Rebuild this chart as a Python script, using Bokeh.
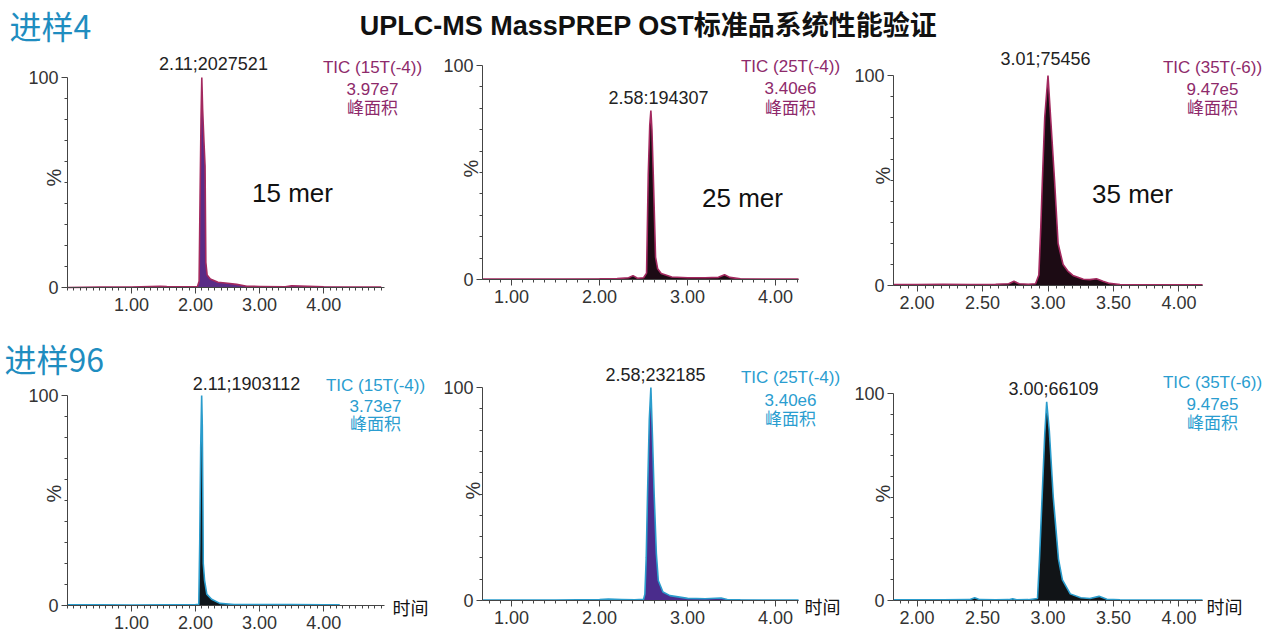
import math
from bokeh.plotting import figure
from bokeh.layouts import column, row
from bokeh.models import Label, FixedTicker, Range1d, NumeralTickFormatter
from bokeh.embed import file_html
from bokeh.resources import INLINE

# ---------------- data ----------------
# 进样4
T15_A = [0.00, 0.50, 1.00, 1.45, 1.55, 1.90, 2.03, 2.055, 2.07, 2.085, 2.097, 2.11, 2.13, 2.148, 2.16, 2.18,
         2.23, 2.35, 2.50, 2.64, 2.80, 3.00, 3.40, 3.50, 4.00, 4.50, 4.90]
I15_A = [0.0, 0.2, 0.2, 0.6, 0.4, 0.3, 0.5, 3, 43, 80, 100, 85, 70, 58, 12, 6,
         4, 2.5, 2, 1.5, 0.6, 0.5, 0.3, 0.8, 0.3, 0.2, 0.2]
T25_A = [0.67, 1.0, 1.5, 2.0, 2.2, 2.33, 2.38, 2.43, 2.50, 2.534, 2.553, 2.57, 2.583, 2.595, 2.61, 2.636, 2.66,
         2.70, 2.82, 3.0, 3.2, 3.35, 3.42, 3.48, 3.6, 4.0, 4.26]
I25_A = [0.2, 0.2, 0.2, 0.3, 0.4, 0.8, 1.8, 0.6, 0.8, 3, 49, 72, 79, 70, 49, 10.5, 5,
         2.8, 1.2, 0.8, 0.8, 1.0, 2.2, 1.0, 0.3, 0.2, 0.2]
T35_A = [1.82, 2.0, 2.2, 2.4, 2.6, 2.70, 2.74, 2.78, 2.85, 2.905, 2.93, 2.945, 2.957, 2.975, 3.00, 3.02, 3.05,
         3.077, 3.115, 3.15, 3.19, 3.27, 3.32, 3.37, 3.42, 3.47, 3.55, 3.7, 4.0, 4.18]
I35_A = [0.5, 0.4, 0.6, 0.5, 0.6, 0.8, 2.0, 0.8, 0.6, 0.8, 5, 28, 50, 80, 100, 80, 50,
         20, 10, 7, 4.8, 3, 2.8, 3.2, 2.0, 1.0, 0.5, 0.3, 0.3, 0.3]
# 进样96
T15_B = [0.00, 0.50, 1.00, 1.50, 2.00, 2.05, 2.065, 2.08, 2.095, 2.105, 2.115, 2.12, 2.14, 2.175, 2.25, 2.38,
         2.60, 3.00, 3.50, 4.00, 4.25]
I15_B = [0.3, 0.3, 0.2, 0.3, 0.4, 0.5, 30, 75, 100, 85, 45, 20, 12, 5.4, 3, 1,
         0.5, 0.4, 0.4, 0.3, 0.3]
T25_B = [0.67, 1.0, 1.5, 2.0, 2.1, 2.25, 2.4, 2.50, 2.515, 2.53, 2.545, 2.565, 2.583, 2.60, 2.62, 2.645, 2.667,
         2.72, 2.80, 3.0, 3.2, 3.38, 3.45, 3.6, 4.0, 4.26]
I25_B = [0.2, 0.2, 0.2, 0.4, 0.7, 0.5, 0.3, 0.6, 3, 20, 50, 85, 100, 78, 50, 22, 9.4,
         4, 2.3, 1.0, 0.8, 1.2, 0.5, 0.3, 0.2, 0.2]
T35_B = [1.82, 2.0, 2.2, 2.4, 2.44, 2.48, 2.6, 2.70, 2.73, 2.76, 2.85, 2.92, 2.935, 2.955, 2.975, 2.99, 3.01,
         3.04, 3.08, 3.11, 3.17, 3.25, 3.32, 3.39, 3.45, 3.55, 3.8, 4.18]
I35_B = [0.3, 0.3, 0.3, 0.4, 1.3, 0.4, 0.3, 0.4, 0.8, 0.3, 0.4, 1, 20, 50, 80, 96, 82,
         50, 20, 10, 3.2, 1.3, 1.0, 2.0, 0.6, 0.3, 0.2, 0.2]

X_TICKS_WIDE = [1.0, 2.0, 3.0, 4.0]
X_TICKS_NARROW = [2.0, 2.5, 3.0, 3.5, 4.0]
Y_TICKS = [0, 100]
Y_MINOR = [10, 20, 30, 40, 50, 60, 70, 80, 90]

PEAK_A = ["2.11;2027521", "2.58:194307", "3.01;75456"]
PEAK_B = ["2.11;1903112", "2.58;232185", "3.00;66109"]
TIC_NAMES = ["TIC (15T(-4))", "TIC (25T(-4))", "TIC (35T(-6))"]
AREA_A = ["3.97e7", "3.40e6", "9.47e5"]
AREA_B = ["3.73e7", "3.40e6", "9.47e5"]
MER = ["15 mer", "25 mer", "35 mer"]

# ---------------- styling ----------------
FONT = "Liberation Sans, Noto Sans CJK SC"
CJK = "Noto Sans CJK SC"
TOP_LINE = "#a3295f"
TOP_TEXT = "#8e2a6b"
BOT_LINE = "#2a9ccc"
BOT_TEXT = "#2a9dd0"
HEAD_BLUE = "#1f8dc0"
AX = "#444444"


def minor_list(lo, hi, step):
    n = int(round((hi - lo) / step))
    return [round(lo + k * step, 4) for k in range(n + 1)]


def panel(x0, y0, w, h, axl, axr, ax0, ax100, xs, xe, xticks, xminor):
    """Figure occupying canvas rect (x0,y0,w,h); axes drawn at fixed pixel geometry."""
    ppx = (axr - axl) / (xe - xs)
    ppy = (ax0 - ax100) / 100.0
    xr = (xs - (axl - x0) / ppx, xs + (x0 + w - axl) / ppx)
    yr = (-(y0 + h - ax0) / ppy, (ax0 - y0) / ppy)
    p = figure(width=w, height=h, x_range=Range1d(*xr), y_range=Range1d(*yr),
               output_backend="svg", toolbar_location=None,
               min_border_left=0, min_border_right=0, min_border_top=0, min_border_bottom=0)
    p.grid.visible = False
    p.outline_line_color = None
    p.background_fill_color = "white"
    p.border_fill_color = "white"
    xa = p.xaxis[0]
    xa.ticker = FixedTicker(ticks=xticks, minor_ticks=xminor)
    xa.formatter = NumeralTickFormatter(format="0.00")
    xa.fixed_location = 0
    xa.bounds = (xs, xe)
    ya = p.yaxis[0]
    ya.ticker = FixedTicker(ticks=Y_TICKS, minor_ticks=Y_MINOR)
    ya.formatter = NumeralTickFormatter(format="0")
    ya.fixed_location = xs
    ya.bounds = (0, 100)
    for a in (xa, ya):
        a.axis_line_color = AX
        a.major_tick_line_color = AX
        a.minor_tick_line_color = AX
        a.major_tick_in = 0
        a.minor_tick_in = 0
        a.major_tick_out = 6
        a.minor_tick_out = 3
        a.major_label_text_font = "Liberation Sans"
        a.major_label_text_font_size = "18px"
        a.major_label_text_color = "#333333"
    xa.major_label_standoff = 4
    ya.major_label_standoff = 3
    p._origin = (x0, y0 + h)
    return p


def put(p, X, Y, text, size, color, font=FONT, style="normal", align="center", angle=0.0):
    ox, oy = p._origin
    p.add_layout(Label(x=X - ox, y=oy - Y, x_units="screen", y_units="screen", text=text,
                       text_font=font, text_font_size=f"{size}px", text_color=color,
                       text_align=align, text_baseline="middle", angle=angle,
                       text_font_style=style))


def trace(p, t, i, fill, line):
    p.varea(x=t, y1=0, y2=i, fill_color=fill)
    p.line(t, i, line_color=line, line_width=1.6)


# heading strip
STRIP_H = 48
head = figure(width=1277, height=STRIP_H, x_range=Range1d(0, 1277), y_range=Range1d(0, STRIP_H),
              output_backend="svg", toolbar_location=None,
              min_border_left=0, min_border_right=0, min_border_top=0, min_border_bottom=0)
head.axis.visible = False
head.grid.visible = False
head.outline_line_color = None
head._origin = (0, STRIP_H)
put(head, 9, 24, "进样4", 32, HEAD_BLUE, font=CJK, align="left")
put(head, 648, 25, "UPLC-MS MassPREP OST标准品系统性能验证", 27, "#111111", style="bold")

# top row (canvas y 48..330)
TOP_Y0 = STRIP_H
TOP_H = 330 - STRIP_H
p1 = panel(0, TOP_Y0, 430, TOP_H, 67, 384, 287, 77, 0.0, 4.95, X_TICKS_WIDE, minor_list(0.0, 4.9, 0.1))
p2 = panel(430, TOP_Y0, 420, TOP_H, 482, 798, 279, 65, 0.67, 4.26, X_TICKS_WIDE, minor_list(0.75, 4.25, 0.125))
p3 = panel(850, TOP_Y0, 427, TOP_H, 893, 1202, 285, 75, 1.82, 4.18, X_TICKS_NARROW, minor_list(1.875, 4.125, 0.0625))
# bottom row (canvas y 330..635)
p4 = panel(0, 330, 430, 305, 67, 384, 605, 395, 0.0, 4.95, X_TICKS_WIDE, minor_list(0.0, 4.9, 0.1))
p5 = panel(430, 330, 420, 305, 482, 798, 600, 387, 0.67, 4.26, X_TICKS_WIDE, minor_list(0.75, 4.25, 0.125))
p6 = panel(850, 330, 427, 305, 893, 1202, 600, 393, 1.82, 4.18, X_TICKS_NARROW, minor_list(1.875, 4.125, 0.0625))

trace(p1, T15_A, I15_A, "#5a2c86", TOP_LINE)
trace(p2, T25_A, I25_A, "#1c0b14", TOP_LINE)
trace(p3, T35_A, I35_A, "#1c0b14", TOP_LINE)
trace(p4, T15_B, I15_B, "#10161b", BOT_LINE)
trace(p5, T25_B, I25_B, "#4a2c8c", BOT_LINE)
trace(p6, T35_B, I35_B, "#111417", BOT_LINE)

put(p4, 4, 357, "进样96", 32, HEAD_BLUE, font=CJK, align="left")

# top row annotations
put(p1, 213, 63, PEAK_A[0], 18, "#222222")
put(p2, 658, 97, PEAK_A[1], 18, "#222222")
put(p3, 1045, 58, PEAK_A[2], 18, "#222222")
for p, cx, ys, k in ((p1, 372, (67, 88, 108), 0), (p2, 790, (66, 87, 108), 1), (p3, 1212, (67, 88, 108), 2)):
    put(p, cx, ys[0], TIC_NAMES[k], 17, TOP_TEXT)
    put(p, cx, ys[1], AREA_A[k], 17, TOP_TEXT)
    put(p, cx, ys[2], "峰面积", 17, TOP_TEXT)
put(p1, 292, 192, MER[0], 26, "#111111")
put(p2, 742, 197, MER[1], 26, "#111111")
put(p3, 1132, 193, MER[2], 26, "#111111")
put(p1, 53, 177, "%", 20, "#333333", angle=math.pi / 2)
put(p2, 470, 168, "%", 20, "#333333", angle=math.pi / 2)
put(p3, 882, 175, "%", 20, "#333333", angle=math.pi / 2)

# bottom row annotations
put(p4, 246, 383, PEAK_B[0], 18, "#222222")
put(p5, 655, 374, PEAK_B[1], 18, "#222222")
put(p6, 1053, 388, PEAK_B[2], 18, "#222222")
for p, cx, ys, k in ((p4, 375, (385, 405, 424), 0), (p5, 790, (377, 399, 419), 1), (p6, 1212, (382, 403, 423), 2)):
    put(p, cx, ys[0], TIC_NAMES[k], 17, BOT_TEXT)
    put(p, cx, ys[1], AREA_B[k], 17, BOT_TEXT)
    put(p, cx, ys[2], "峰面积", 17, BOT_TEXT)
put(p4, 53, 493, "%", 20, "#333333", angle=math.pi / 2)
put(p5, 472, 490, "%", 20, "#333333", angle=math.pi / 2)
put(p6, 882, 493, "%", 20, "#333333", angle=math.pi / 2)
put(p4, 410, 606, "时间", 18, "#111111", font=CJK)
put(p5, 822, 605, "时间", 18, "#111111", font=CJK)
put(p6, 1224, 605, "时间", 18, "#111111", font=CJK)

layout = column(head, row(p1, p2, p3, spacing=0), row(p4, p5, p6, spacing=0), spacing=0)
open("out.html", "w").write(file_html(layout, INLINE))
